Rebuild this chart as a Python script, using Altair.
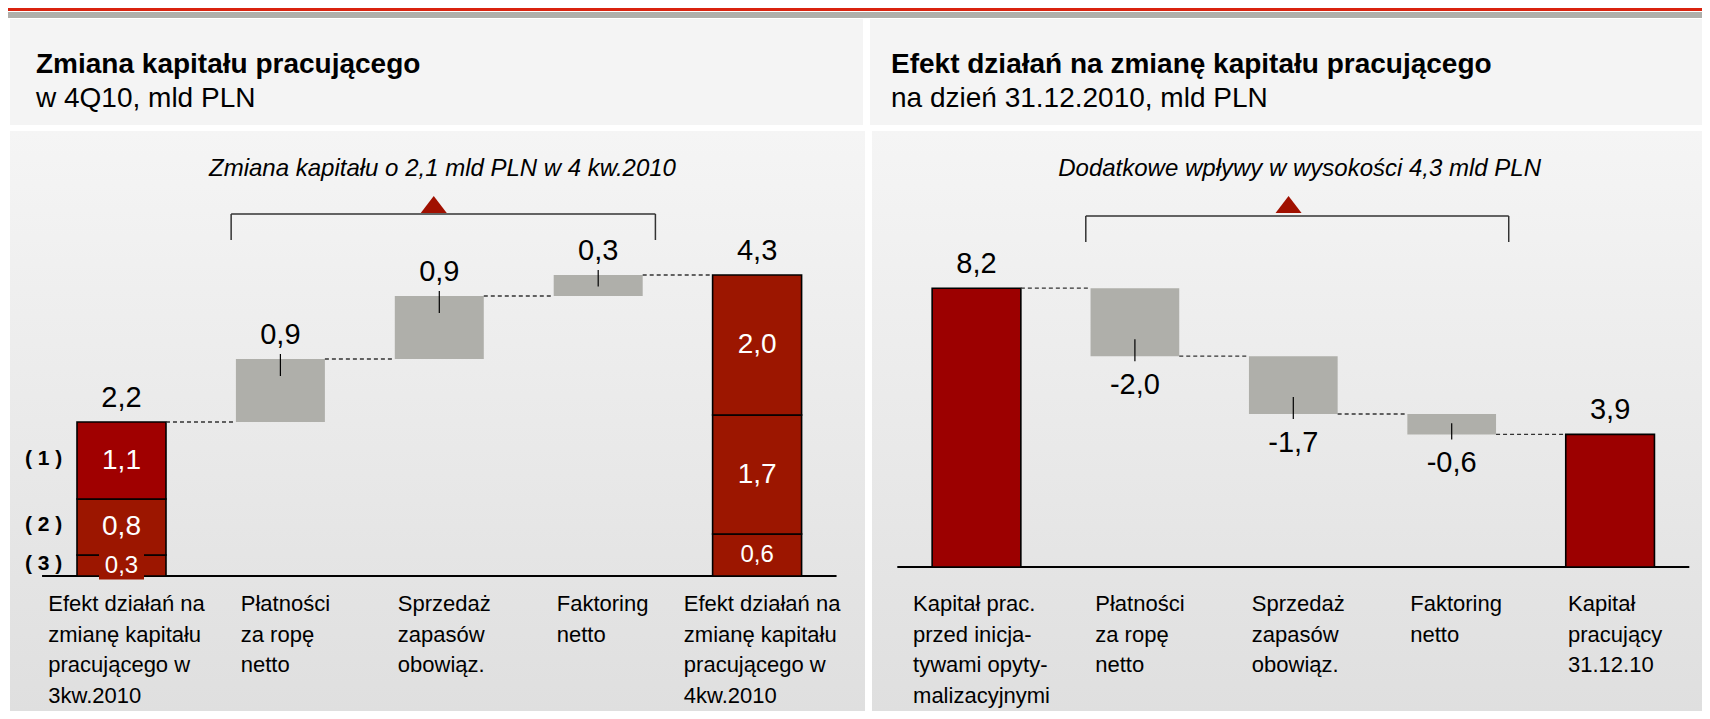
import altair as alt
import pandas as pd

# ---------------- data ----------------
L_TITLE = "Zmiana kapitału pracującego"
L_SUBTITLE = "w 4Q10, mld PLN"
L_NOTE = "Zmiana kapitału o 2,1 mld PLN w 4 kw.2010"
L_CATEGORIES = [
    "Efekt działań na\nzmianę kapitału\npracującego w\n3kw.2010",
    "Płatności\nza ropę\nnetto",
    "Sprzedaż\nzapasów\nobowiąz.",
    "Faktoring\nnetto",
    "Efekt działań na\nzmianę kapitału\npracującego w\n4kw.2010",
]
L_START_PARTS = [0.3, 0.8, 1.1]          # bottom -> top
L_START_TAGS = ["( 3 )", "( 2 )", "( 1 )"]
L_CHANGES = [0.9, 0.9, 0.3]
L_END_PARTS = [0.6, 1.7, 2.0]             # bottom -> top

R_TITLE = "Efekt działań na zmianę kapitału pracującego"
R_SUBTITLE = "na dzień 31.12.2010, mld PLN"
R_NOTE = "Dodatkowe wpływy w wysokości 4,3 mld PLN"
R_CATEGORIES = [
    "Kapitał prac.\nprzed inicja-\ntywami opyty-\nmalizacyjnymi",
    "Płatności\nza ropę\nnetto",
    "Sprzedaż\nzapasów\nobowiąz.",
    "Faktoring\nnetto",
    "Kapitał\npracujący\n31.12.10",
]
R_START_PARTS = [8.2]
R_START_TAGS = []
R_CHANGES = [-2.0, -1.7, -0.6]
R_END_PARTS = [3.9]

# ---------------- layout / style ----------------
FONT = "Liberation Sans, Arial, Helvetica, sans-serif"
W, H, M = 1694, 703, 8
RED_TOP = "#a00000"
RED = "#9c1600"
RED_R = "#9c0000"
GRAY = "#afafaa"
HW = 0.28
LAB_SIZE = 22
VAL_SIZE = 29

LEFT_GEO = dict(c0=121.5, step=158.9, base=576, pxu=70, px0=2, px1=857, hx1=855,
                title_x=28, bracket_y=206, tri_x=1.965, note_x=2.02)
RIGHT_GEO = dict(c0=976.5, step=158.4, base=567, pxu=34, px0=864, px1=W, hx1=W,
                 title_x=883, bracket_y=208, tri_x=1.97, note_x=2.04)


def fmt(v):
    return f"{v:.1f}".replace(".", ",")


def arial_w(s, size):
    w = 0
    for ch in s:
        if ch in "ijlł":
            w += 222
        elif ch in "ftI .,:;/":
            w += 278
        elif ch in "r-()":
            w += 333
        elif ch in "kszcyvxżśćźJ":
            w += 500
        elif ch in "mM":
            w += 833
        elif ch in "wN":
            w += 722
        elif ch.isupper():
            w += 667
        else:
            w += 556
    return w * size / 1000.0


one = pd.DataFrame({"d": [0]})


def bg_rect(x0, x1, y0, y1, fill):
    return alt.Chart(one).mark_rect(fill=fill, strokeWidth=0).encode(
        x=alt.value(x0), x2=alt.value(x1), y=alt.value(y0), y2=alt.value(y1))


def free_text(txt, x, y, size, weight="normal", style="normal"):
    return alt.Chart(pd.DataFrame({"t": [txt]})).mark_text(
        align="left", baseline="alphabetic", font=FONT, fontSize=size,
        fontWeight=weight, fontStyle=style, color="#000000").encode(
        x=alt.value(x), y=alt.value(y), text="t:N")


def panel(cats, start_parts, tags, changes, end_parts, note, g):
    c = g["c0"] - M
    step = g["step"]
    base = g["base"] - M
    pxu = g["pxu"]
    xs = alt.Scale(domain=[-c / step, (W - c) / step], nice=False, zero=False)
    ys = alt.Scale(domain=[-(H - base) / pxu, base / pxu], nice=False, zero=False)

    def X(f):
        return alt.X(f, type="quantitative", scale=xs, axis=None)

    def Y(f):
        return alt.Y(f, type="quantitative", scale=ys, axis=None)

    n = len(cats)

    # stacked total bars
    segs = []
    for idx, parts in ((0, start_parts), (n - 1, end_parts)):
        cum = 0.0
        for k, v in enumerate(parts):
            segs.append(dict(i=idx, x0=idx - HW, x1=idx + HW, y0=cum, y1=cum + v,
                             mid=cum + v / 2, lab=fmt(v), v=v, multi=len(parts) > 1,
                             topstart=(idx == 0 and k == len(parts) - 1 and len(parts) > 1),
                             tag=(tags[k] if (idx == 0 and k < len(tags)) else "")))
            cum += v
    seg_df = pd.DataFrame(segs)

    totals = [sum(start_parts)]
    for ch in changes:
        totals.append(totals[-1] + ch)

    # change bars
    gb = []
    for j, ch in enumerate(changes):
        i = j + 1
        lo, hi = sorted([totals[j], totals[j + 1]])
        h_px = abs(ch) * pxu
        inner = min(17.0, h_px / 2 + 1) / pxu
        outer = 5.0 / pxu
        if ch > 0:
            ta, tb = hi + outer, hi - inner
        else:
            ta, tb = lo - outer, lo + inner
        gb.append(dict(i=i, x0=i - HW, x1=i + HW, y0=lo, y1=hi, ta=ta, tb=tb))
    gb_df = pd.DataFrame(gb)

    # value labels
    above, below = [], []
    above.append(dict(i=0, y=totals[0], lab=fmt(totals[0])))
    for j, ch in enumerate(changes):
        lo, hi = sorted([totals[j], totals[j + 1]])
        if ch > 0:
            above.append(dict(i=j + 1, y=hi, lab=fmt(ch)))
        else:
            below.append(dict(i=j + 1, y=lo, lab=fmt(ch)))
    above.append(dict(i=n - 1, y=sum(end_parts), lab=fmt(sum(end_parts))))

    # connectors
    conn_df = pd.DataFrame([dict(x0=i + HW, x1=i + 1 - HW, y=totals[i]) for i in range(n - 1)])

    # category labels (left-aligned block centred on the bar by its widest line)
    cl = []
    for i, t in enumerate(cats):
        wmax = max(arial_w(s, LAB_SIZE) for s in t.split("\n"))
        cl.append(dict(lx=i - (wmax / 2 - 5) / step, t=t))
    cl_df = pd.DataFrame(cl)

    layers = []
    # baseline
    layers.append(alt.Chart(pd.DataFrame({"x0": [-0.5], "x1": [n - 0.5], "y": [0.0]}))
                  .mark_rule(color="#000000", strokeWidth=2.2)
                  .encode(x=X("x0"), x2="x1", y=Y("y")))
    # total bars
    layers.append(alt.Chart(seg_df).mark_rect(stroke="#000000", strokeWidth=1.6).encode(
        x=X("x0"), x2="x1", y=Y("y0"), y2="y1",
        fill=alt.condition("datum.topstart", alt.value(RED_TOP),
                           alt.value(RED if len(start_parts) > 1 else RED_R))))
    multi_df = seg_df[seg_df["multi"]]
    if len(multi_df):
        small = multi_df[multi_df["v"] * pxu < 30]
        if len(small):
            layers.append(alt.Chart(small).mark_point(
                shape="M-1,-0.62L1,-0.62L1,0.62L-1,0.62Z", filled=True, size=2025,
                color=RED, opacity=1, strokeWidth=0).encode(x=X("i"), y=Y("mid")))
        big_lab = multi_df[multi_df["v"] >= 0.7]
        small_lab = multi_df[multi_df["v"] < 0.7]
        layers.append(alt.Chart(big_lab).mark_text(
            font=FONT, fontSize=28, color="#ffffff", baseline="middle", align="center").encode(
            x=X("i"), y=Y("mid"), text="lab:N"))
        layers.append(alt.Chart(small_lab).mark_text(
            font=FONT, fontSize=24, color="#ffffff", baseline="middle", align="center").encode(
            x=X("i"), y=Y("mid"), text="lab:N"))
        tag_df = multi_df[multi_df["tag"] != ""].assign(tx=-0.49)
        if len(tag_df):
            layers.append(alt.Chart(tag_df).mark_text(
                font=FONT, fontSize=21, fontWeight="bold", color="#000000",
                baseline="middle", align="center", dy=-2).encode(
                x=X("tx"), y=Y("mid"), text="tag:N"))
    # change bars
    layers.append(alt.Chart(gb_df).mark_rect(fill=GRAY, strokeWidth=0).encode(
        x=X("x0"), x2="x1", y=Y("y0"), y2="y1"))
    layers.append(alt.Chart(gb_df).mark_rule(color="#000000", strokeWidth=1.2).encode(
        x=X("i"), y=Y("ta"), y2="tb"))
    # connectors
    layers.append(alt.Chart(conn_df).mark_rule(color="#333333", strokeWidth=1.3,
                                               strokeDash=[4, 3]).encode(
        x=X("x0"), x2="x1", y=Y("y")))
    # value labels
    layers.append(alt.Chart(pd.DataFrame(above)).mark_text(
        font=FONT, fontSize=VAL_SIZE, color="#000000", baseline="alphabetic", align="center", dy=-15).encode(
        x=X("i"), y=Y("y"), text="lab:N"))
    if below:
        layers.append(alt.Chart(pd.DataFrame(below)).mark_text(
            font=FONT, fontSize=VAL_SIZE, color="#000000", baseline="alphabetic", align="center", dy=38).encode(
            x=X("i"), y=Y("y"), text="lab:N"))
    # bracket, triangle and note
    by = g["bracket_y"]
    br = pd.DataFrame({"x0": [1 - 0.31], "x1": [(n - 2) + 0.36]})
    layers.append(alt.Chart(br).mark_rule(color="#333333", strokeWidth=1.5).encode(
        x=X("x0"), x2="x1", y=alt.value(by)))
    legs = pd.DataFrame({"x": [1 - 0.31, (n - 2) + 0.36]})
    layers.append(alt.Chart(legs).mark_rule(color="#333333", strokeWidth=1.5).encode(
        x=X("x"), y=alt.value(by), y2=alt.value(by + 26)))
    layers.append(alt.Chart(pd.DataFrame({"x": [g["tri_x"]]})).mark_point(
        shape="M-1,0.65L1,0.65L0,-0.65Z", filled=True, size=676, color="#a01000",
        opacity=1, strokeWidth=0).encode(x=X("x"), y=alt.value(196.5)))
    layers.append(alt.Chart(pd.DataFrame({"x": [g["note_x"]], "t": [note]})).mark_text(
        font=FONT, fontSize=24, fontStyle="italic", color="#000000", align="center",
        baseline="alphabetic").encode(x=X("x"), y=alt.value(167.5), text="t:N"))
    # category labels
    layers.append(alt.Chart(cl_df).mark_text(
        font=FONT, fontSize=LAB_SIZE, color="#000000", align="left", baseline="alphabetic",
        lineBreak="\n", lineHeight=30.5).encode(x=X("lx"), y=alt.value(603), text="t:N"))
    return alt.layer(*layers)


grad = alt.Gradient(gradient="linear",
                    stops=[alt.GradientStop(color="#f5f5f5", offset=0),
                           alt.GradientStop(color="#dfdfdf", offset=1)],
                    x1=0, x2=0, y1=0, y2=1)

decor = [
    bg_rect(0, W, 0, 3, "#d9230f"),
    bg_rect(0, W, 4, 10, "#afafaa"),
    bg_rect(LEFT_GEO["px0"], LEFT_GEO["hx1"], 11, 117, "#f4f4f4"),
    bg_rect(RIGHT_GEO["px0"] - 2, RIGHT_GEO["hx1"], 11, 117, "#f4f4f4"),
    bg_rect(LEFT_GEO["px0"], LEFT_GEO["px1"], 123, H, grad),
    bg_rect(RIGHT_GEO["px0"], RIGHT_GEO["px1"], 123, H, grad),
    free_text(L_TITLE, LEFT_GEO["title_x"], 65, 28, weight="bold"),
    free_text(L_SUBTITLE, LEFT_GEO["title_x"], 99, 28),
    free_text(R_TITLE, RIGHT_GEO["title_x"], 65, 28, weight="bold"),
    free_text(R_SUBTITLE, RIGHT_GEO["title_x"], 99, 28),
]

left = panel(L_CATEGORIES, L_START_PARTS, L_START_TAGS, L_CHANGES, L_END_PARTS, L_NOTE, LEFT_GEO)
right = panel(R_CATEGORIES, R_START_PARTS, R_START_TAGS, R_CHANGES, R_END_PARTS, R_NOTE, RIGHT_GEO)

chart = alt.layer(*decor, left, right).resolve_scale(
    x="independent", y="independent"
).properties(
    width=W, height=H, autosize=alt.AutoSizeParams(type="none"), padding=0, background="#ffffff"
).configure_view(stroke=None)

chart.save("out.html", embed_options={"renderer": "svg", "actions": False})
